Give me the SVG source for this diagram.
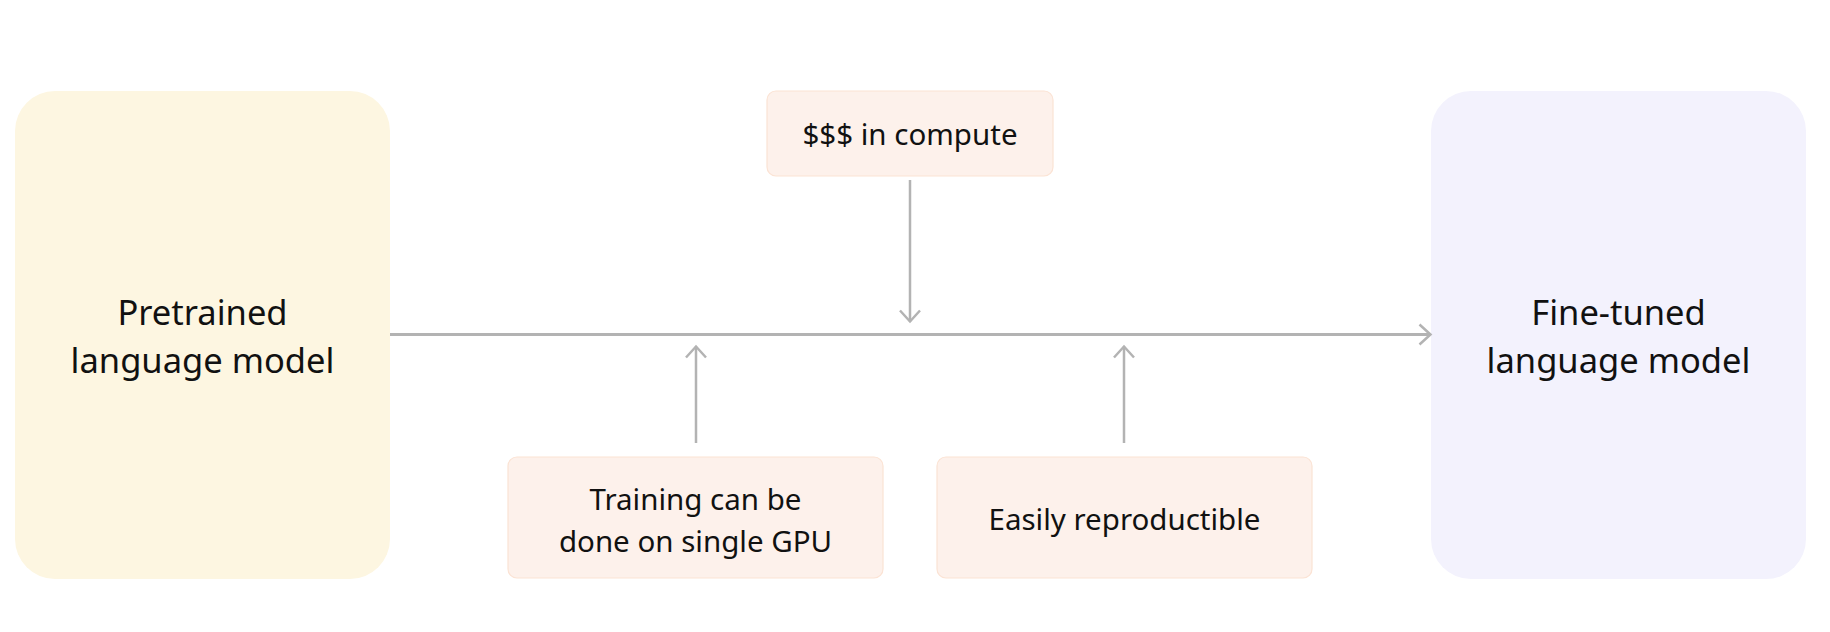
<svg xmlns="http://www.w3.org/2000/svg" width="1830" height="632" viewBox="0 0 1830 632">
  <style>
    .lbl { font-family: "Noto Sans", "Liberation Sans", sans-serif; fill: #111111; text-anchor: middle; }
    .big { font-size: 34.5px; }
    .small { font-size: 29.5px; }
    .note { fill: #fdf1eb; stroke: #fbe3d4; stroke-width: 1.2; }
    .conn { stroke: #b3b3b3; fill: none; }
  </style>
  <defs>
    <marker id="chev" markerUnits="userSpaceOnUse" markerWidth="30" markerHeight="30" viewBox="-15 -15 30 30" refX="0" refY="0" orient="auto" overflow="visible">
      <path d="M-11,-10 L0,0 L-11,10" fill="none" stroke="#b3b3b3" stroke-width="2.5" stroke-linejoin="miter"/>
    </marker>
  </defs>
  <rect width="1830" height="632" fill="#ffffff"/>

  <g id="pretrained">
    <rect x="15" y="91" width="375" height="488" rx="40" fill="#fdf6e1"/>
    <text class="lbl big" x="202.5" y="325">Pretrained</text>
    <text class="lbl big" x="202.5" y="373">language model</text>
  </g>

  <g id="finetuned">
    <rect x="1431" y="91" width="375" height="488" rx="40" fill="#f3f2fd"/>
    <text class="lbl big" x="1618.5" y="325">Fine-tuned</text>
    <text class="lbl big" x="1618.5" y="373">language model</text>
  </g>

  <g id="compute">
    <rect class="note" x="767" y="91" width="286" height="85" rx="9"/>
    <text class="lbl small" x="910" y="145">$$$ in compute</text>
  </g>

  <g id="single-gpu">
    <rect class="note" x="508" y="457" width="375" height="121" rx="9"/>
    <text class="lbl small" x="695.5" y="510">Training can be</text>
    <text class="lbl small" x="695.5" y="552">done on single GPU</text>
  </g>

  <g id="reproducible">
    <rect class="note" x="937" y="457" width="375" height="121" rx="9"/>
    <text class="lbl small" x="1124.5" y="530">Easily reproductible</text>
  </g>

  <g id="connectors">
    <line class="conn" x1="390" y1="334.5" x2="1430.5" y2="334.5" stroke-width="3" marker-end="url(#chev)"/>
    <line class="conn" x1="910" y1="180" x2="910" y2="321.5" stroke-width="2.5" marker-end="url(#chev)"/>
    <line class="conn" x1="696" y1="443" x2="696" y2="346.5" stroke-width="2.5" marker-end="url(#chev)"/>
    <line class="conn" x1="1124" y1="443" x2="1124" y2="346.5" stroke-width="2.5" marker-end="url(#chev)"/>
  </g>
</svg>
